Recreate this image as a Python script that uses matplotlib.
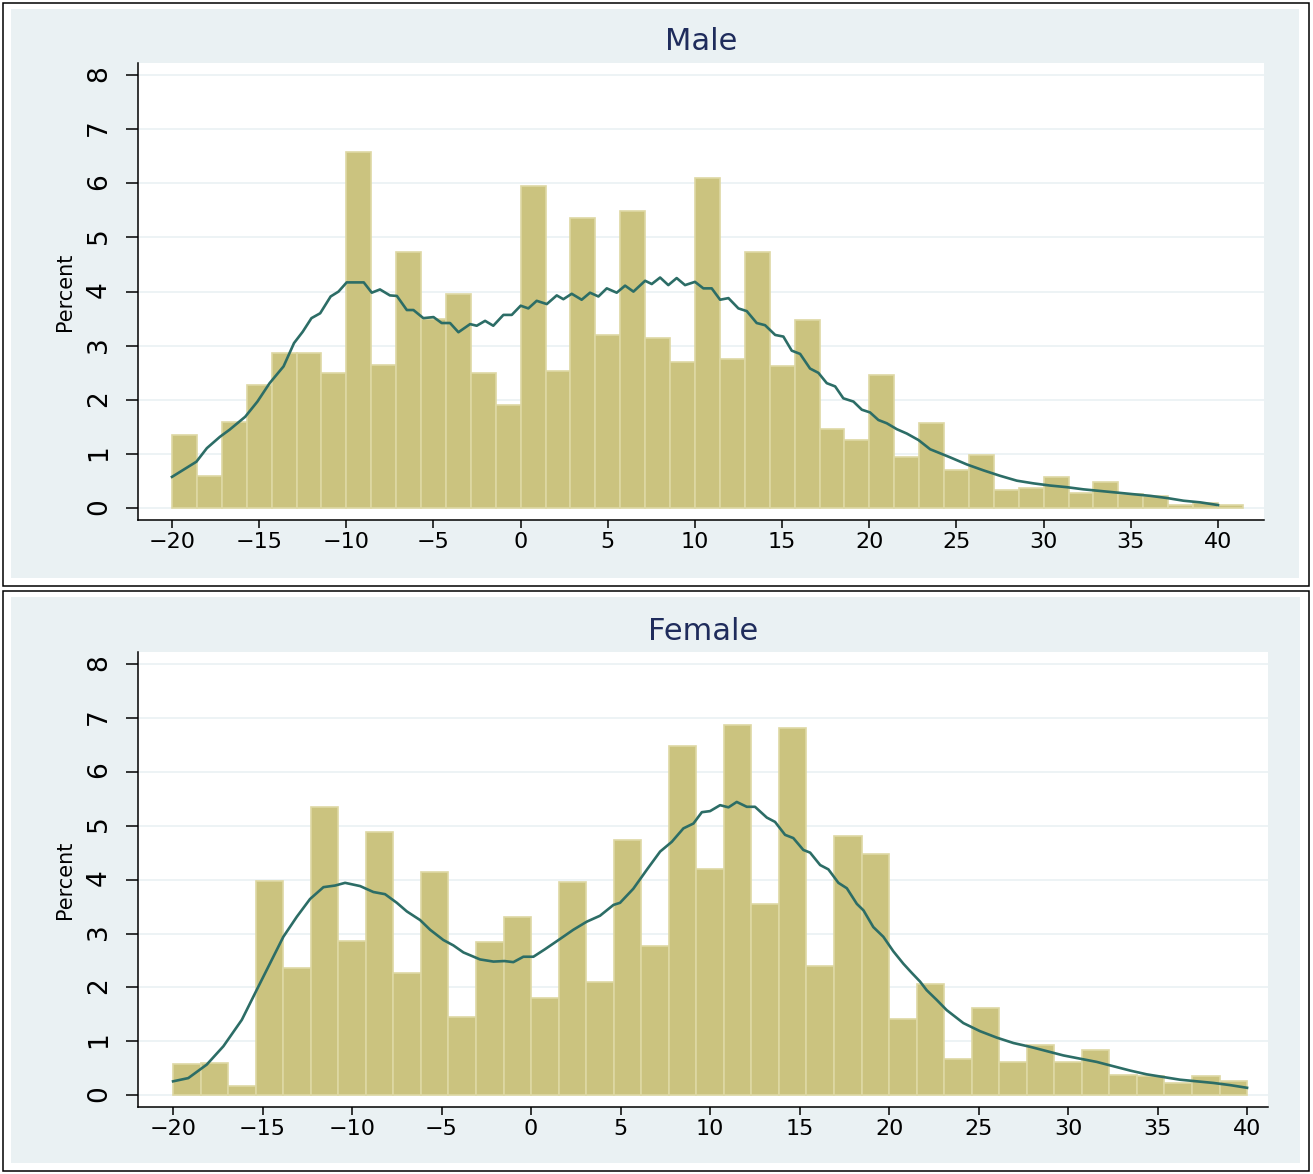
import numpy as np
import matplotlib
matplotlib.use('Agg')
import matplotlib.pyplot as plt
from matplotlib.patches import Rectangle

plt.rcParams['font.family'] = ['DejaVu Sans']

# histogram bins (percent per bin)
male_bin_start = -20.0
male_bin_width = 10.0 / 7.0
male_pct = [1.35, 0.60, 1.59, 2.28, 2.86, 2.86, 2.49, 6.58, 2.65, 4.74,
            3.49, 3.95, 2.49, 1.90, 5.95, 2.54, 5.35, 3.20, 5.48, 3.14,
            2.70, 6.10, 2.75, 4.74, 2.63, 3.48, 1.46, 1.26, 2.46, 0.94,
            1.57, 0.70, 0.99, 0.34, 0.37, 0.58, 0.29, 0.48, 0.26, 0.23,
            0.07, 0.09, 0.06]

female_bin_start = -20.0
female_bin_width = 60.0 / 39.0
female_pct = [0.58, 0.60, 0.17, 3.98, 2.37, 5.35, 2.86, 4.88, 2.27, 4.15,
              1.46, 2.85, 3.31, 1.80, 3.96, 2.10, 4.73, 2.76, 6.48, 4.19,
              6.86, 3.55, 6.82, 2.40, 4.81, 4.48, 1.41, 2.07, 0.67, 1.62,
              0.62, 0.93, 0.62, 0.84, 0.37, 0.35, 0.22, 0.35, 0.27]

# kernel density overlay
male_kde_x = [-20.0, -18.6, -18.0, -17.25, -16.7, -15.8, -15.1, -14.4, -13.6, -13.0,
              -12.5, -12.0, -11.5, -10.9, -10.45, -9.98, -9.0, -8.54, -8.07, -7.5,
              -7.1, -6.53, -6.15, -5.58, -5.0, -4.53, -4.05, -3.57, -2.9, -2.52,
              -2.04, -1.57, -0.99, -0.51, 0.0, 0.44, 0.92, 1.5, 2.07, 2.45,
              2.93, 3.5, 3.98, 4.46, 4.94, 5.51, 5.99, 6.47, 7.14, 7.52,
              8.0, 8.47, 8.95, 9.43, 10.0, 10.48, 10.96, 11.44, 11.92, 12.49,
              12.97, 13.54, 14.02, 14.6, 15.07, 15.55, 16.03, 16.6, 17.08, 17.56,
              18.04, 18.51, 19.09, 19.57, 20.04, 20.52, 21.0, 21.58, 22.15, 22.82,
              23.49, 24.64, 25.59, 26.55, 27.5, 28.46, 29.42, 30.37, 31.33, 32.28,
              33.24, 34.2, 35.15, 36.11, 37.07, 38.02, 38.98, 40.0]
male_kde_y = [0.58, 0.86, 1.11, 1.32, 1.45, 1.69, 1.97, 2.31, 2.62, 3.05,
              3.26, 3.51, 3.60, 3.91, 4.00, 4.17, 4.17, 3.98, 4.04, 3.93,
              3.92, 3.66, 3.66, 3.51, 3.53, 3.42, 3.42, 3.25, 3.40, 3.37,
              3.46, 3.37, 3.57, 3.57, 3.74, 3.69, 3.83, 3.77, 3.93, 3.86,
              3.96, 3.85, 3.98, 3.91, 4.06, 3.98, 4.11, 4.00, 4.20, 4.14,
              4.26, 4.12, 4.25, 4.12, 4.18, 4.06, 4.06, 3.85, 3.88, 3.69,
              3.64, 3.42, 3.38, 3.20, 3.17, 2.91, 2.85, 2.58, 2.50, 2.31,
              2.25, 2.03, 1.97, 1.82, 1.77, 1.63, 1.57, 1.46, 1.38, 1.26,
              1.09, 0.94, 0.81, 0.70, 0.60, 0.51, 0.46, 0.42, 0.39, 0.35,
              0.32, 0.29, 0.26, 0.23, 0.19, 0.14, 0.11, 0.06]

female_kde_x = [-20.0, -19.15, -18.12, -17.19, -16.16, -15.32, -14.58, -13.84, -13.09, -12.35,
                -11.6, -10.95, -10.39, -9.55, -8.81, -8.16, -7.5, -6.94, -6.2, -5.64,
                -4.9, -4.34, -3.78, -2.85, -2.1, -1.49, -0.99, -0.43, 0.13, 0.78,
                1.62, 2.36, 3.11, 3.85, 4.6, 4.97, 5.71, 6.46, 7.21, 7.86,
                8.51, 9.07, 9.54, 10.0, 10.56, 11.03, 11.49, 12.05, 12.51, 13.17,
                13.63, 14.19, 14.65, 15.21, 15.59, 16.15, 16.61, 17.17, 17.64, 18.2,
                18.57, 19.12, 19.68, 20.24, 20.8, 21.27, 21.73, 22.1, 22.66, 23.22,
                24.15, 25.08, 26.02, 26.95, 27.88, 28.81, 29.74, 30.67, 31.6, 32.53,
                33.46, 34.39, 35.32, 36.26, 37.19, 38.12, 39.05, 40.0]
female_kde_y = [0.26, 0.32, 0.57, 0.91, 1.40, 1.96, 2.45, 2.94, 3.31, 3.64,
                3.86, 3.89, 3.94, 3.88, 3.77, 3.73, 3.57, 3.41, 3.25, 3.07,
                2.88, 2.78, 2.65, 2.52, 2.48, 2.49, 2.47, 2.57, 2.57, 2.71,
                2.90, 3.07, 3.22, 3.33, 3.53, 3.57, 3.83, 4.18, 4.52, 4.70,
                4.95, 5.04, 5.25, 5.27, 5.38, 5.34, 5.44, 5.35, 5.35, 5.15,
                5.07, 4.83, 4.77, 4.55, 4.50, 4.27, 4.19, 3.94, 3.84, 3.55,
                3.43, 3.12, 2.94, 2.67, 2.44, 2.27, 2.11, 1.95, 1.77, 1.58,
                1.34, 1.19, 1.07, 0.97, 0.90, 0.82, 0.74, 0.68, 0.62, 0.54,
                0.46, 0.39, 0.34, 0.29, 0.26, 0.23, 0.19, 0.14]

x_ticks = [-20, -15, -10, -5, 0, 5, 10, 15, 20, 25, 30, 35, 40]
y_ticks = [0, 1, 2, 3, 4, 5, 6, 7, 8]

BAR_FILL = '#CBC37F'
BAR_EDGE = '#DED8A4'
LINE_COL = '#2C6D66'
PANEL_BG = '#EAF1F3'
GRID_COL = '#EAF1F3'
TITLE_COL = '#1F2C5C'

W, H = 1313, 1174
fig = plt.figure(figsize=(W / 100, H / 100), dpi=100)
fig.patch.set_facecolor('white')


def px_box(x0, y0, x1, y1, **kw):
    # rectangle given in pixel coords measured from the top-left corner
    r = Rectangle((x0 / W, 1 - y1 / H), (x1 - x0) / W, (y1 - y0) / H,
                  transform=fig.transFigure, **kw)
    fig.add_artist(r)


# outer frames and shaded panel backgrounds
px_box(3, 3, 1309, 586, facecolor='white', edgecolor='black', lw=1.1, zorder=-10)
px_box(11, 9, 1299, 578, facecolor=PANEL_BG, edgecolor='none', zorder=-9)
px_box(3, 591, 1309, 1171, facecolor='white', edgecolor='black', lw=1.1, zorder=-10)
px_box(11, 597, 1300, 1163, facecolor=PANEL_BG, edgecolor='none', zorder=-9)

panels = [
    ('Male', [138 / W, 1 - 520 / H, 1126 / W, 457 / H], (-21.95, 42.64), 42,
     male_bin_start, male_bin_width, male_pct, male_kde_x, male_kde_y),
    ('Female', [138 / W, 1 - 1107 / H, 1130 / W, 455 / H], (-21.96, 41.17), 631,
     female_bin_start, female_bin_width, female_pct, female_kde_x, female_kde_y),
]

for title, rect, xlim, title_y, start, width, pct, kx, ky in panels:
    ax = fig.add_axes(rect)
    ax.set_facecolor('white')
    edges = start + width * np.arange(len(pct))
    ax.bar(edges, pct, width=width, align='edge', color=BAR_FILL,
           edgecolor=BAR_EDGE, linewidth=1.2, zorder=2)
    ax.plot(kx, ky, color=LINE_COL, lw=1.9, zorder=3)

    ax.set_xlim(*xlim)
    ax.set_ylim(-0.216, 8.22)
    ax.set_xticks(x_ticks)
    ax.set_yticks(y_ticks)
    ax.set_axisbelow(True)
    ax.yaxis.grid(True, color=GRID_COL, lw=1.2)

    for side in ('top', 'right'):
        ax.spines[side].set_visible(False)
    for side in ('left', 'bottom'):
        ax.spines[side].set_linewidth(1.1)

    ax.tick_params(axis='x', length=5.8, width=1.1, pad=3, labelsize=16)
    ax.tick_params(axis='y', length=8.6, width=1.1, pad=10, labelsize=19,
                   labelrotation=90)

    ax.set_ylabel('Percent', fontsize=15)
    ax.yaxis.set_label_coords(-0.056, 0.5)

    fig.text(rect[0] + rect[2] / 2, 1 - title_y / H, title,
             ha='center', va='center', fontsize=22, color=TITLE_COL)

plt.savefig('out.png', dpi=100)
